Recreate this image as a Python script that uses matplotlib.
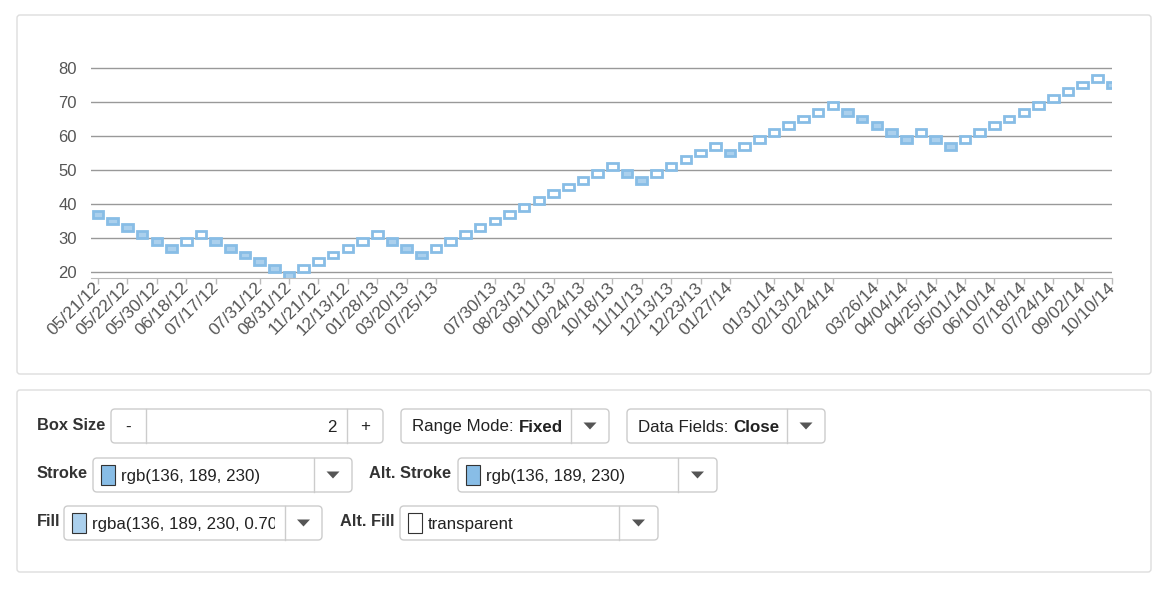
"""
Box (renko style) chart of closing prices with its settings panel below.
"""
import matplotlib
matplotlib.use('Agg')
import matplotlib.pyplot as plt
from matplotlib.patches import Rectangle, FancyBboxPatch, Polygon

plt.rcParams['font.family'] = ['Liberation Sans', 'DejaVu Sans']

# centre value of every box, left to right (box size 2)
BOX_VALUES = [37, 35, 33, 31, 29, 27, 29, 31, 29, 27, 25, 23, 21, 19,
              21, 23, 25, 27, 29, 31, 29, 27, 25, 27, 29, 31, 33, 35,
              37, 39, 41, 43, 45, 47, 49, 51, 49, 47, 49, 51, 53, 55,
              57, 55, 57, 59, 61, 63, 65, 67, 69, 67, 65, 63, 61, 59,
              61, 59, 57, 59, 61, 63, 65, 67, 69, 71, 73, 75, 77, 75]
BOX_SIZE = 2
# columns that carry a date label
TICK_INDEX = [0, 2, 4, 6, 8, 11, 13, 15, 17, 19, 21, 23, 27, 29, 31, 33,
              35, 37, 39, 41, 43, 46, 48, 50, 53, 55, 57, 59, 61, 63, 65,
              67, 69]
TICK_LABELS = ['05/21/12', '05/22/12', '05/30/12', '06/18/12', '07/17/12',
               '07/31/12', '08/31/12', '11/21/12', '12/13/12', '01/28/13',
               '03/20/13', '07/25/13', '07/30/13', '08/23/13', '09/11/13',
               '09/24/13', '10/18/13', '11/11/13', '12/13/13', '12/23/13',
               '01/27/14', '01/31/14', '02/13/14', '02/24/14', '03/26/14',
               '04/04/14', '04/25/14', '05/01/14', '06/10/14', '07/18/14',
               '07/24/14', '09/02/14', '10/10/14']
Y_TICKS = [20, 30, 40, 50, 60, 70, 80]

STROKE = (136 / 255, 189 / 255, 230 / 255)
FILL = (136 / 255, 189 / 255, 230 / 255, 0.7)
W, H = 1170, 600
UI_FS = 12.2

fig = plt.figure(figsize=(W / 100, H / 100), dpi=100)

# --- page layer in pixel coordinates (panels and controls)
ui = fig.add_axes([0, 0, 1, 1], zorder=0)
ui.set_xlim(0, W)
ui.set_ylim(H, 0)
ui.axis('off')


def rbox(x0, y0, x1, y1, ec='#cccccc', fc='white', r=4, lw=1):
    ui.add_patch(FancyBboxPatch((x0, y0), x1 - x0, y1 - y0,
                                boxstyle='round,pad=0,rounding_size=%s' % r,
                                ec=ec, fc=fc, lw=lw))


def divider(x, y0, y1):
    ui.plot([x, x], [y0, y1], color='#cccccc', lw=1)


def caret(cx, cy):
    ui.add_patch(Polygon([(cx - 6.5, cy - 3.5), (cx + 6.5, cy - 3.5),
                          (cx, cy + 3.5)], closed=True, color='#555555', lw=0))


def swatch(x, cy, fc):
    ui.add_patch(Rectangle((x, cy - 10), 14, 20, fc=fc, ec='#333333', lw=0.8))


def dropdown(x0, x1, y0, y1, xdiv, sw, text, bold=None):
    rbox(x0, y0, x1, y1)
    divider(xdiv, y0, y1)
    cy = (y0 + y1) / 2
    caret((xdiv + x1) / 2, cy)
    tx = x0 + 11
    if sw is not None:
        swatch(x0 + 8, cy, sw)
        tx = x0 + 28
    t = ui.text(tx, cy + 1, text, fontsize=UI_FS, color='#222222',
                va='center', ha='left', clip_on=True)
    t.set_clip_path(Rectangle((x0, y0), xdiv - x0 - 10, y1 - y0,
                              transform=ui.transData))
    if bold:
        fig.canvas.draw()
        bb = t.get_window_extent()
        xe = ui.transData.inverted().transform((bb.x1, bb.y0))[0]
        ui.text(xe, cy + 1, bold, fontsize=UI_FS, color='#222222',
                fontweight='bold', va='center', ha='left')


rbox(17, 15, 1151, 374, ec='#dddddd', r=3)
rbox(17, 390, 1151, 572, ec='#dddddd', r=3)

lab = dict(fontsize=11.8, fontweight='bold', color='#333333', va='center')

# row 1
ui.text(37, 426, 'Box Size', **lab)
rbox(111, 409, 383, 443)
divider(146, 409, 443)
divider(347, 409, 443)
ui.text(128, 427, '-', fontsize=UI_FS, color='#222222', ha='center', va='center')
ui.text(337, 427, str(BOX_SIZE), fontsize=UI_FS, color='#222222',
        ha='right', va='center')
ui.text(365, 427, '+', fontsize=UI_FS, color='#222222', ha='center', va='center')
dropdown(401, 609, 409, 443, 571, None, 'Range Mode: ', 'Fixed')
dropdown(627, 825, 409, 443, 787, None, 'Data Fields: ', 'Close')

# row 2
ui.text(37, 474, 'Stroke', **lab)
dropdown(93, 352, 458, 492, 314, STROKE, 'rgb(136, 189, 230)')
ui.text(369, 474, 'Alt. Stroke', **lab)
dropdown(458, 717, 458, 492, 678, STROKE, 'rgb(136, 189, 230)')

# row 3
ui.text(37, 522, 'Fill', **lab)
dropdown(64, 322, 506, 540, 285, FILL, 'rgba(136, 189, 230, 0.70)')
ui.text(340, 522, 'Alt. Fill', **lab)
dropdown(400, 658, 506, 540, 619, 'white', 'transparent')

# --- the box chart itself
ax = fig.add_axes([91 / W, 1 - 278 / H, (1112 - 91) / W, 211 / H], zorder=1)
ax.patch.set_alpha(0)
ax.set_xlim(-0.48, 69.0)
ax.set_ylim(18.24, 80.3)

for i, v in enumerate(BOX_VALUES):
    down = i == 0 or v < BOX_VALUES[i - 1]
    ax.add_patch(Rectangle((i - 0.36, v - BOX_SIZE / 2), 0.72, BOX_SIZE,
                           fc=FILL if down else 'white', ec=STROKE, lw=2.0,
                           zorder=3))

ax.set_yticks(Y_TICKS)
ax.yaxis.grid(True, color='#999999', lw=1)
ax.set_axisbelow(True)
ax.set_xticks(TICK_INDEX)
ax.set_xticklabels(TICK_LABELS)
for s in ['top', 'right', 'left']:
    ax.spines[s].set_visible(False)
ax.spines['bottom'].set_color('#bbbbbb')
ax.tick_params(axis='y', length=0, pad=10, labelsize=12, labelcolor='#555555')
ax.tick_params(axis='x', length=4, width=1, color='#bbbbbb', pad=1,
               labelsize=12.5, labelcolor='#555555')
plt.setp(ax.get_xticklabels(), rotation=45, ha='right', va='center',
         rotation_mode='anchor')

plt.savefig('out.png', dpi=100)
